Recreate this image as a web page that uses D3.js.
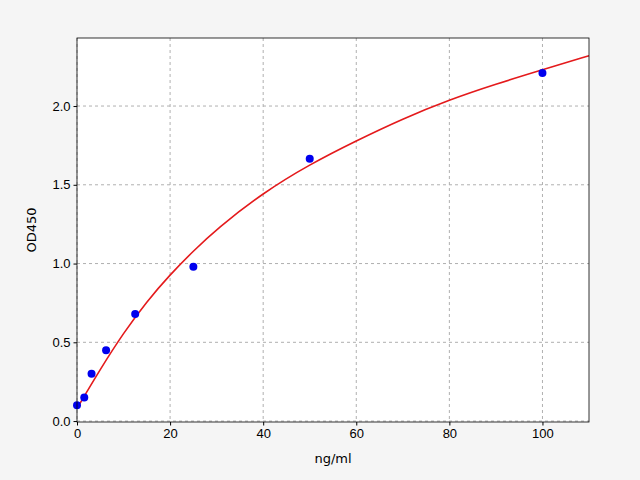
<!DOCTYPE html>
<html><head><meta charset="utf-8">
<script src="https://cdn.jsdelivr.net/npm/d3@7"></script>
<style>body{margin:0;background:#f5f5f5}svg{font-family:"DejaVu Sans",sans-serif}</style>
</head><body><svg id="c" width="640" height="480"></svg>
<script>
const conc=[0,1.5625,3.125,6.25,12.5,25,50,100];
const od=[0.10,0.15,0.30,0.45,0.68,0.98,1.665,2.21];
const curveX=[0,5,10,15,20,25,30,40,50,60,70,80,90,100,110];
const curveY=[0.08,0.33,0.56,0.76,0.93,1.08,1.22,1.45,1.63,1.78,1.92,2.04,2.14,2.23,2.32];
const xTicks=[0,20,40,60,80,100];
const yTicks=[0,0.5,1.0,1.5,2.0];
const svg=d3.select("#c");
svg.append("rect").attr("width",640).attr("height",480).attr("fill","#f5f5f5");
const L=77,R=589,T=38,B=422;
const x=d3.scaleLinear().domain([0,110]).range([L,R]);
const y=d3.scaleLinear().domain([-0.006,2.432]).range([B,T]);
svg.append("rect").attr("x",L).attr("y",T).attr("width",R-L).attr("height",B-T).attr("fill","#fff");
const g=svg.append("g");
xTicks.forEach(t=>g.append("line").attr("x1",x(t)).attr("x2",x(t)).attr("y1",T).attr("y2",B).attr("stroke","#b0b0b0").attr("stroke-dasharray","3,3"));
yTicks.forEach(t=>g.append("line").attr("x1",L).attr("x2",R).attr("y1",y(t)).attr("y2",y(t)).attr("stroke","#b0b0b0").attr("stroke-dasharray","3,3"));
svg.append("path").datum(curveX.map((v,i)=>[v,curveY[i]]))
 .attr("d",d3.line().x(d=>x(d[0])).y(d=>y(d[1])).curve(d3.curveBasis))
 .attr("fill","none").attr("stroke","#e41a1c").attr("stroke-width",1.6);
svg.append("g").selectAll("circle").data(conc).join("circle")
 .attr("cx",d=>x(d)).attr("cy",(d,i)=>y(od[i])).attr("r",4).attr("fill","#0000ee");
svg.append("g").attr("transform",`translate(0,${B})`).call(d3.axisBottom(x).tickValues(xTicks).tickSize(3.5).tickPadding(3).tickFormat(d3.format("d")))
 .call(a=>{a.select(".domain").remove();a.selectAll("text").attr("font-size",13).attr("fill","#000");});
svg.append("g").attr("transform",`translate(${L},0)`).call(d3.axisLeft(y).tickValues(yTicks).tickSize(3.5).tickPadding(3).tickFormat(d3.format(".1f")))
 .call(a=>{a.select(".domain").remove();a.selectAll("text").attr("font-size",13).attr("fill","#000");});
svg.append("rect").attr("x",L).attr("y",T).attr("width",R-L).attr("height",B-T).attr("fill","none").attr("stroke","#000").attr("stroke-width",0.8);
svg.append("text").attr("x",(L+R)/2).attr("y",463).attr("text-anchor","middle").attr("font-size",13).text("ng/ml");
svg.append("text").attr("transform",`translate(36,${(T+B)/2}) rotate(-90)`).attr("text-anchor","middle").attr("font-size",13).text("OD450");
</script></body></html>
